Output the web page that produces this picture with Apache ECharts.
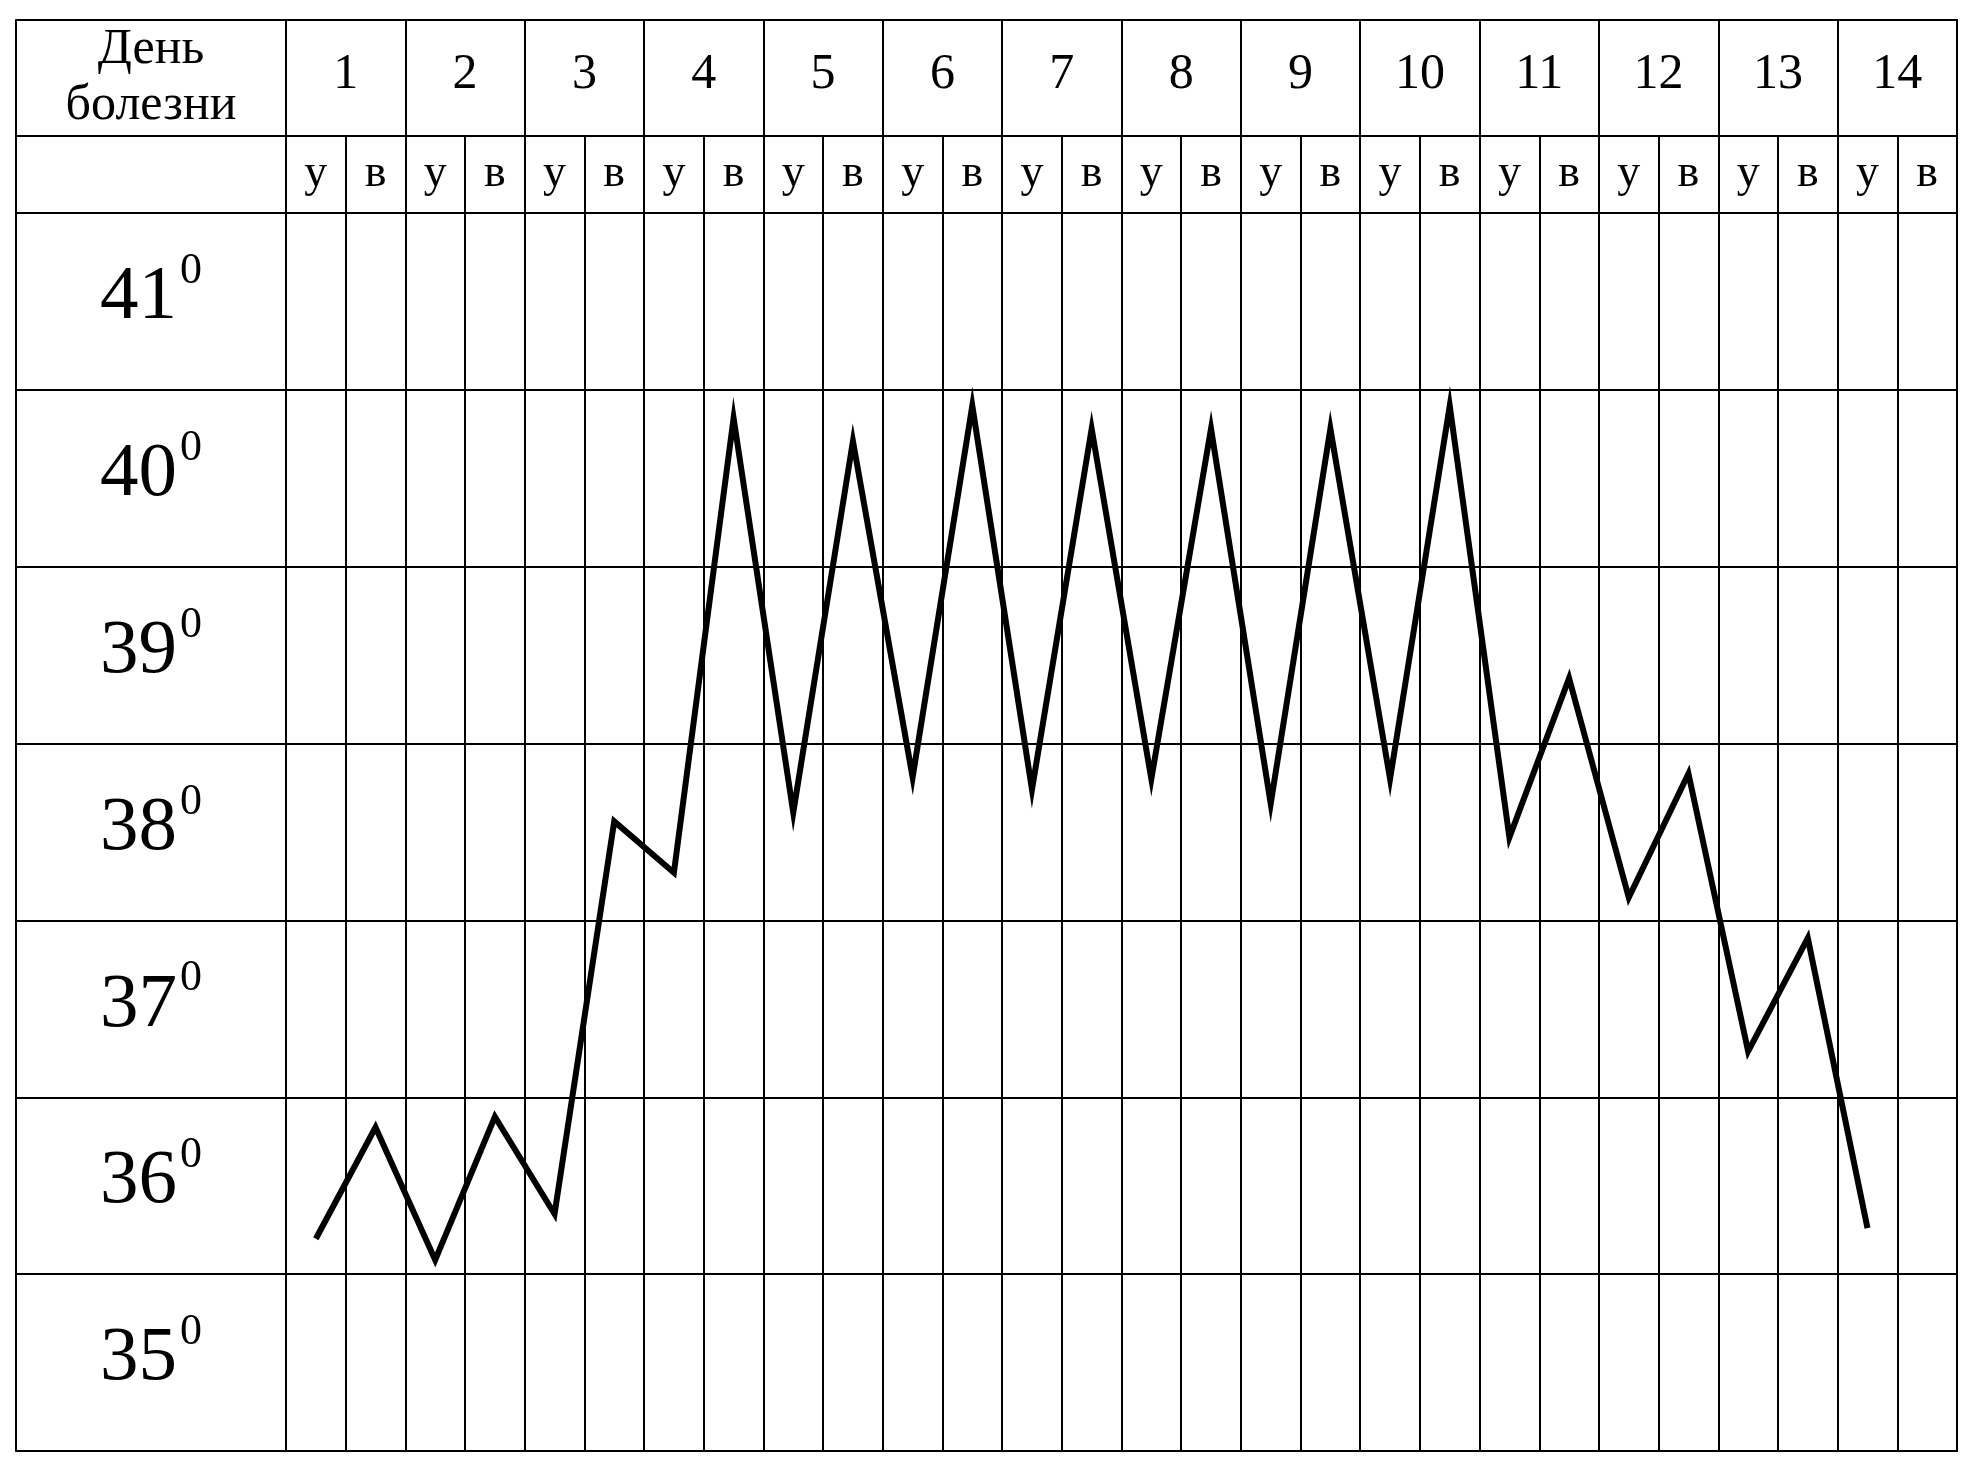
<!DOCTYPE html>
<html>
<head>
<meta charset="utf-8">
<script src="https://cdn.jsdelivr.net/npm/echarts@6.0.0/dist/echarts.min.js"></script>
<style>
  html, body { margin: 0; padding: 0; background: #fff; }
  #chart { width: 1980px; height: 1467px; }
</style>
</head>
<body>
<div id="chart"></div>
<script>
// ---- data ----
const dayLabels = ['1','2','3','4','5','6','7','8','9','10','11','12','13','14'];
const partLabels = ['у', 'в'];               // утро / вечер
const tempLabels = ['35','36','37','38','39','40','41'];
const headerLabel = 'День\nболезни';
// temperature, morning/evening for days 1..14 (last evening empty)
const temperature = [
  36.20, 36.83,  36.08, 36.89,  36.34, 38.56,  38.27, 40.84,
  38.61, 40.71,  38.81, 40.91,  38.74, 40.78,  38.80, 40.78,
  38.66, 40.78,  38.80, 40.91,  38.47, 39.37,  38.13, 38.83,
  37.26, 37.90,  36.26, null
];

// ---- build ----
const slots = [];
dayLabels.forEach(() => partLabels.forEach(p => slots.push(p)));

const FONT = 'Liberation Serif';
const L = 286, W = 1671, LEFTCOL = 270;
const black = '#000';
const gridBase = { left: L, width: W, show: true, borderColor: black, borderWidth: 2, backgroundColor: 'transparent' };
const split = { show: true, interval: 0, lineStyle: { color: black, width: 2 } };

const chart = echarts.init(document.getElementById('chart'), null, { renderer: 'canvas' });
chart.setOption({
  animation: false,
  backgroundColor: '#fff',
  textStyle: { fontFamily: FONT, color: black },
  grid: [
    Object.assign({ top: 20, height: 116 }, gridBase),
    Object.assign({ top: 136, height: 77 }, gridBase),
    Object.assign({ top: 213, height: 1238 }, gridBase)
  ],
  xAxis: [
    { gridIndex: 0, type: 'category', data: dayLabels, position: 'top', boundaryGap: true,
      axisLine: { show: false }, axisTick: { show: false }, splitLine: split,
      axisLabel: { inside: true, margin: 55, verticalAlign: 'middle', fontSize: 50, fontFamily: FONT, color: black, interval: 0 } },
    { gridIndex: 1, type: 'category', data: slots, position: 'top', boundaryGap: true,
      axisLine: { show: false }, axisTick: { show: false }, splitLine: split,
      axisLabel: { inside: true, margin: 38, verticalAlign: 'middle', fontSize: 46, fontFamily: FONT, color: black, interval: 0 } },
    { gridIndex: 2, type: 'category', data: slots, boundaryGap: true,
      axisLine: { show: false }, axisTick: { show: false }, axisLabel: { show: false }, splitLine: split }
  ],
  yAxis: [
    { gridIndex: 0, type: 'category', data: [headerLabel], position: 'left', offset: LEFTCOL,
      axisLine: { show: true, lineStyle: { color: black, width: 2 } },
      axisTick: { show: true, inside: true, length: LEFTCOL, interval: 0, lineStyle: { color: black, width: 2 } },
      axisLabel: { inside: true, margin: 135, align: 'center', verticalAlign: 'middle', fontSize: 50, lineHeight: 56, fontFamily: FONT, color: black } },
    { gridIndex: 1, type: 'category', data: [''], position: 'left', offset: LEFTCOL,
      axisLine: { show: true, lineStyle: { color: black, width: 2 } },
      axisTick: { show: true, inside: true, length: LEFTCOL, interval: 0, lineStyle: { color: black, width: 2 } },
      axisLabel: { show: false } },
    { gridIndex: 2, type: 'value', min: 35, max: 42, interval: 1,
      axisLine: { show: false }, axisTick: { show: false }, axisLabel: { show: false },
      splitLine: { show: true, lineStyle: { color: black, width: 2 } } },
    { gridIndex: 2, type: 'category', data: tempLabels, position: 'left', offset: LEFTCOL,
      axisLine: { show: true, lineStyle: { color: black, width: 2 } },
      axisTick: { show: true, inside: true, length: LEFTCOL, interval: 0, lineStyle: { color: black, width: 2 } },
      axisLabel: { inside: true, margin: 135, align: 'center', interval: 0, padding: [0, 0, 17, 0],
        formatter: v => '{n|' + v + '}{s|0}',
        rich: {
          n: { fontSize: 77, lineHeight: 87, fontFamily: FONT, color: black, verticalAlign: 'bottom' },
          s: { fontSize: 44, lineHeight: 44, fontFamily: FONT, color: black, verticalAlign: 'top', padding: [0, 0, 0, 3] }
        } } }
  ],
  series: [{
    type: 'line', xAxisIndex: 2, yAxisIndex: 2, data: temperature,
    symbol: 'none', connectNulls: false,
    lineStyle: { color: black, width: 6, join: 'miter', miterLimit: 20 }
  }]
});
</script>
</body>
</html>
